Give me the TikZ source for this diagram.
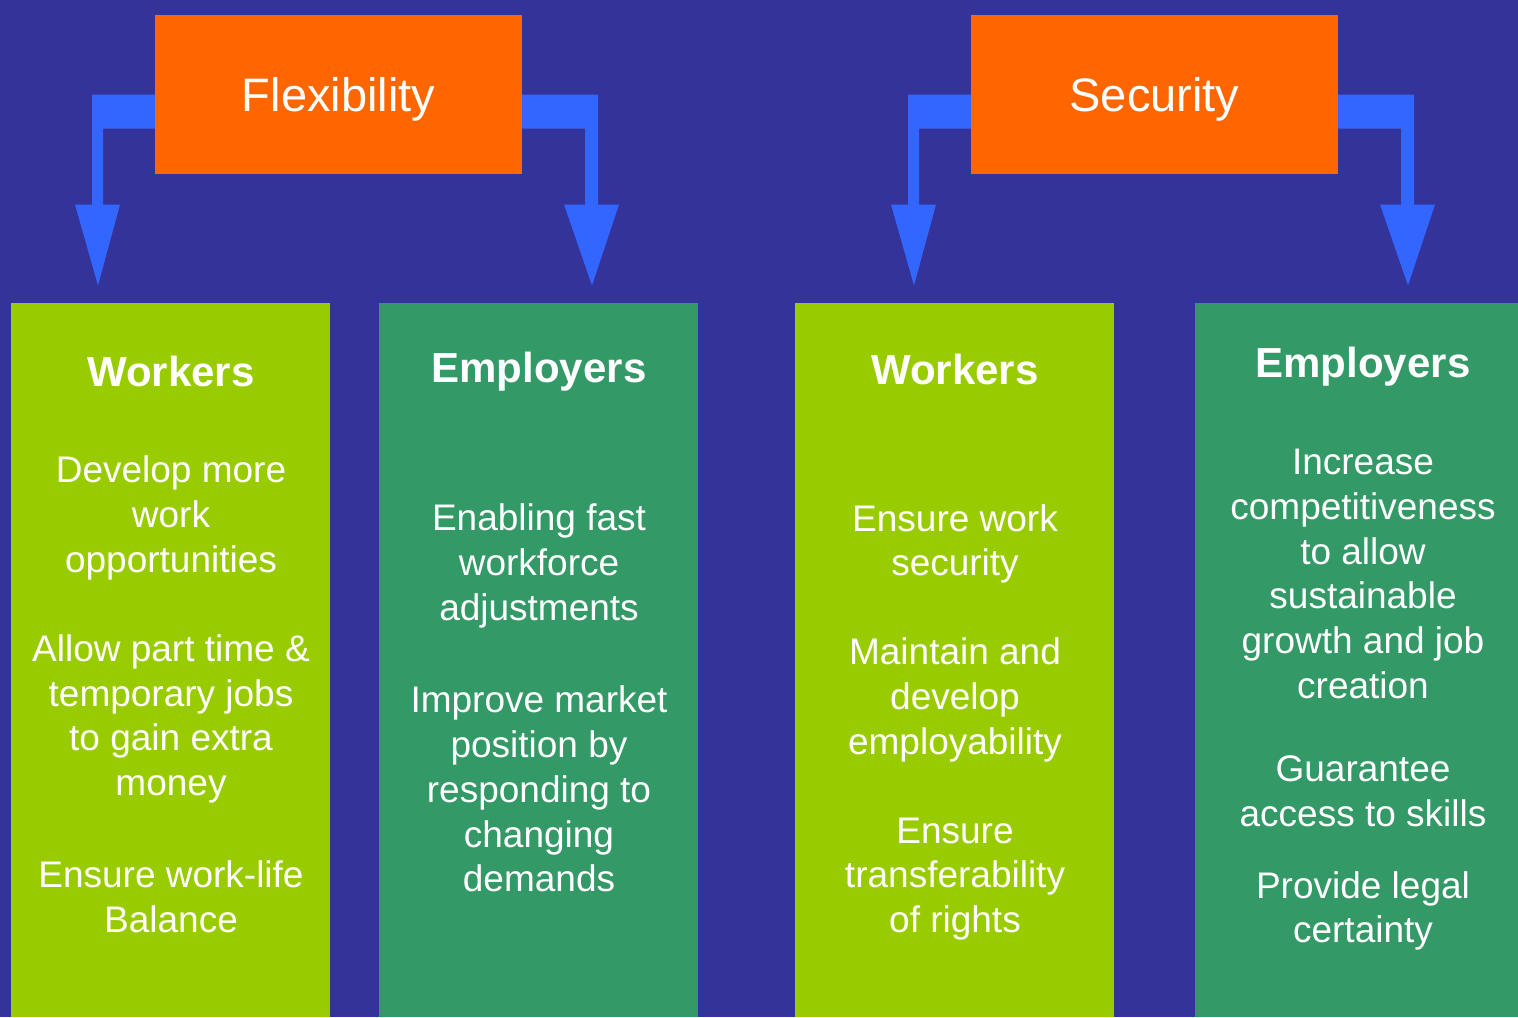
\documentclass[tikz,border=0pt]{standalone}
\usepackage{fontspec}
\setmainfont{Liberation Sans}
\usepackage{tikz}
\usetikzlibrary{calc}

\definecolor{bgblue}{HTML}{333399}
\definecolor{arrowblue}{HTML}{3366FF}
\definecolor{boxorange}{HTML}{FF6600}
\definecolor{lightgreen}{HTML}{99CC00}
\definecolor{darkgreen}{HTML}{339966}

\begin{document}
\begin{tikzpicture}[x=0.5pt, y=-0.5pt,
        title_style/.style={rectangle,fill=boxorange,text=white,minimum width=183.5pt,minimum height=79.5pt,inner sep=0pt,font=\fontsize{23.5}{28}\selectfont},
        worker_style/.style={rectangle,fill=lightgreen,minimum width=159.5pt,minimum height=357pt,inner sep=0pt},
        employer_style/.style={rectangle,fill=darkgreen,minimum width=159.5pt,minimum height=357pt,inner sep=0pt},
        head_style/.style={text=white,inner sep=0pt,font=\fontsize{21}{25}\selectfont\bfseries},
        text_style/.style={text=white,inner sep=0pt,align=center,font=\fontsize{18.5}{22.4}\selectfont},
        arrow_style/.style={fill=arrowblue}]

        % background
        \fill [bgblue] (0,0) rectangle (1518,1017);
        \useasboundingbox (0,0) rectangle (1518,1017);

        % bent arrows
        \coordinate (flexw) at (155,94.5);
        \coordinate (flexe) at (522,94.5);
        \coordinate (secw) at (971,94.5);
        \coordinate (sece) at (1338,94.5);
        \fill [arrow_style] (flexw) -- ++(-63,0) -- ++(0,110) -- ++(-17,0) -- ++(23,81) -- ++(22,-81) -- ++(-17,0) -- ++(0,-76) -- ++(52,0) -- cycle;
        \fill [arrow_style] (flexe) -- ++(76,0) -- ++(0,110) -- ++(21,0) -- ++(-27,81) -- ++(-28,-81) -- ++(21,0) -- ++(0,-76) -- ++(-63,0) -- cycle;
        \fill [arrow_style] (secw) -- ++(-63,0) -- ++(0,110) -- ++(-17,0) -- ++(23,81) -- ++(22,-81) -- ++(-17,0) -- ++(0,-76) -- ++(52,0) -- cycle;
        \fill [arrow_style] (sece) -- ++(76,0) -- ++(0,110) -- ++(21,0) -- ++(-27,81) -- ++(-28,-81) -- ++(21,0) -- ++(0,-76) -- ++(-63,0) -- cycle;

        \node [title_style,text depth=0pt,text height=17pt](flex) at (338.5,94.5) {Flexibility};
        \node [title_style,text depth=0pt,text height=17pt](sec) at (1154.5,94.5) {Security};

        \node [worker_style](w1) at (170.5,660) {};
        \node [employer_style](e1) at (538.5,660) {};
        \node [worker_style](w2) at (954.5,660) {};
        \node [employer_style,minimum width=168pt](e2) at (1363,660) {};

        % flexibility / workers
        \node [head_style](w1head) at (171,371) {Workers};
        \node [text_style](w1a) at (171,518) {Develop more\\work\\opportunities};
        \node [text_style](w1b) at (171,719) {Allow part time \&\\temporary jobs\\to gain extra\\money};
        \node [text_style](w1c) at (171,897) {Ensure work-life\\Balance};

        % flexibility / employers
        \node [head_style](e1head) at (539,372) {Employers};
        \node [text_style](e1a) at (539,566) {Enabling fast\\workforce\\adjustments};
        \node [text_style](e1b) at (539,789) {Improve market\\position by\\responding to\\changing\\demands};

        % security / workers
        \node [head_style](w2head) at (955,369) {Workers};
        \node [text_style](w2a) at (955,544) {Ensure work\\security};
        \node [text_style](w2b) at (955,700) {Maintain and\\develop\\employability};
        \node [text_style](w2c) at (955,879) {Ensure\\transferability\\of rights};

        % security / employers
        \node [head_style](e2head) at (1363,367) {Employers};
        \node [text_style](e2a) at (1363,574) {Increase\\competitiveness\\to allow\\sustainable\\growth and job\\creation};
        \node [text_style](e2b) at (1363,791) {Guarantee\\access to skills};
        \node [text_style](e2c) at (1363,911) {Provide legal\\certainty};

        \end{tikzpicture}
\end{document}
